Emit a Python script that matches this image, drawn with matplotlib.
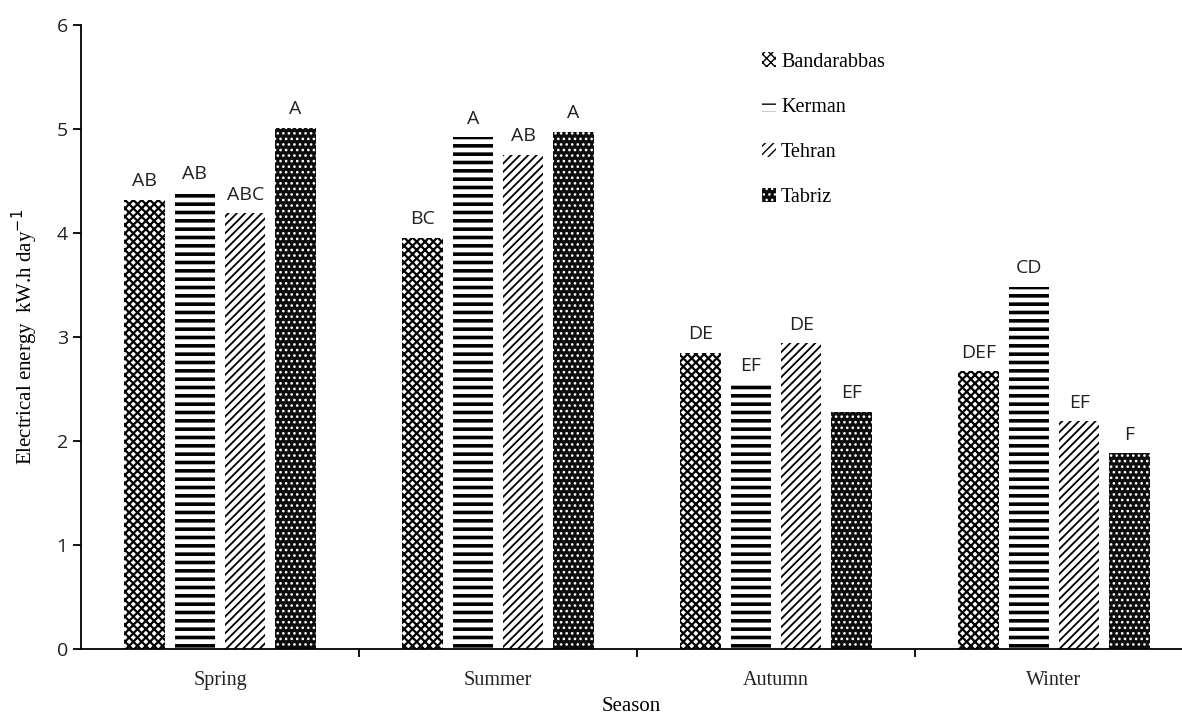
import numpy as np
import matplotlib as mpl
import matplotlib.pyplot as plt

# data
seasons = ["Spring", "Summer", "Autumn", "Winter"]
cities = ["Bandarabbas", "Kerman", "Tehran", "Tabriz"]
bandarabbas = [4.32, 3.95, 2.85, 2.67]
kerman = [4.39, 4.92, 2.54, 3.48]
tehran = [4.19, 4.75, 2.94, 2.19]
tabriz = [5.01, 4.97, 2.28, 1.88]
letters = [
    ["AB", "BC", "DE", "DEF"],
    ["AB", "A", "EF", "CD"],
    ["ABC", "AB", "DE", "EF"],
    ["A", "A", "EF", "F"],
]

series = [bandarabbas, kerman, tehran, tabriz]

# fill styles per city: (face, hatch colour, hatch, hatch linewidth)
styles = [
    ("white", "black", "xxxx", 1.6),
    ("white", "black", "--", 2.6),
    ("white", "black", "////", 1.3),
    ("#0d0d0d", "white", "...", 1.1),
]

fig = plt.figure(figsize=(11.82, 7.22), dpi=100)
ax = fig.add_axes([81 / 1182, 73 / 722, 1 - 81 / 1182, 624 / 722])

x = np.arange(len(seasons))
width = 0.145
step = 0.181
offsets = (np.arange(4) - 1.5) * step

for i, vals in enumerate(series):
    face, hcol, hatch, hlw = styles[i]
    with mpl.rc_context({"hatch.linewidth": hlw}):
        bars = ax.bar(x + offsets[i], vals, width, color=face, edgecolor=hcol,
                      hatch=hatch, linewidth=0, label=cities[i])
    for b in bars:
        if hasattr(b, "set_hatch_linewidth"):
            b.set_hatch_linewidth(hlw)
    for j, b in enumerate(bars):
        ax.annotate(letters[i][j], (b.get_x() + b.get_width() / 2, b.get_height()),
                    xytext=(0, 7), textcoords="offset points", ha="center",
                    va="bottom", fontsize=14, family="Open Sans", color="#222222")

ax.set_ylim(0, 6)
ax.set_xlim(-0.5, -0.5 + 1101 / 278)
ax.set_yticks(range(7))
ax.tick_params(axis="y", labelsize=14, length=6, width=1.3, direction="out")
for lab in ax.get_yticklabels():
    lab.set_family("Open Sans")
    lab.set_color("#222222")

# category labels at centres, ticks at category boundaries
ax.set_xticks(x)
ax.set_xticklabels(seasons, family="Liberation Serif", fontsize=14.5, color="#222222")
ax.tick_params(axis="x", length=0, pad=16)
ax.set_xticks([0.5, 1.5, 2.5], minor=True)
ax.tick_params(axis="x", which="minor", length=6, width=1.3, direction="out")

ax.spines["top"].set_visible(False)
ax.spines["right"].set_visible(False)
ax.spines["left"].set_linewidth(1.3)
ax.spines["bottom"].set_linewidth(1.3)

ax.set_xlabel("Season", family="Liberation Serif", fontsize=15, labelpad=5)
ax.set_ylabel("Electrical energy  kW.h day$^{-1}$", family="Liberation Serif",
              fontsize=15, labelpad=12)

ax.legend(loc="upper left", bbox_to_anchor=(0.602, 0.985), frameon=False,
          handlelength=0.7, handleheight=0.7, handletextpad=0.25,
          labelspacing=1.3, prop={"family": "Liberation Serif", "size": 14.5})

fig.savefig("out.png", dpi=100)
